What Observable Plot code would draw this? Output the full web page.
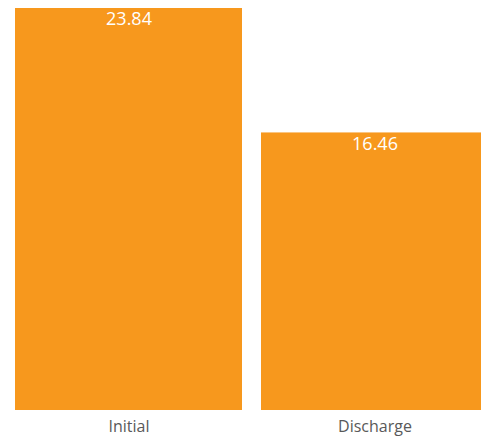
<!DOCTYPE html>
<html>
<head>
<meta charset="utf-8">
<script src="https://cdn.jsdelivr.net/npm/d3@7"></script>
<script src="https://cdn.jsdelivr.net/npm/@observablehq/plot@0.6"></script>
<style>
  html, body { margin: 0; padding: 0; background: #fff; }
  #chart svg { display: block; }
</style>
</head>
<body>
<div id="chart"></div>
<script>
const categories = ["Initial", "Discharge"];
const values = [23.84, 16.46];

const data = categories.map((c, i) => ({ category: c, value: values[i] }));

const chart = Plot.plot({
  width: 481,
  height: 437,
  marginTop: 8,
  marginBottom: 27,
  marginLeft: 15,
  marginRight: 0,
  style: { fontFamily: "'Open Sans', sans-serif", background: "#fff" },
  x: { domain: categories, range: [15, 488], paddingInner: 19 / 246, paddingOuter: 0, label: null },
  y: { domain: [0, 23.84], axis: null },
  marks: [
    Plot.barY(data, { x: "category", y: "value", fill: "#F7981D" }),
    Plot.text(data, {
      x: "category", y: "value", text: d => d.value.toFixed(2),
      fill: "#fff", fontSize: 18, lineAnchor: "top", dy: 4
    }),
    Plot.axisX({ tickSize: 0, tickPadding: 10, fontSize: 16, color: "#595959", label: null })
  ]
});
document.getElementById("chart").append(chart);
</script>
</body>
</html>
